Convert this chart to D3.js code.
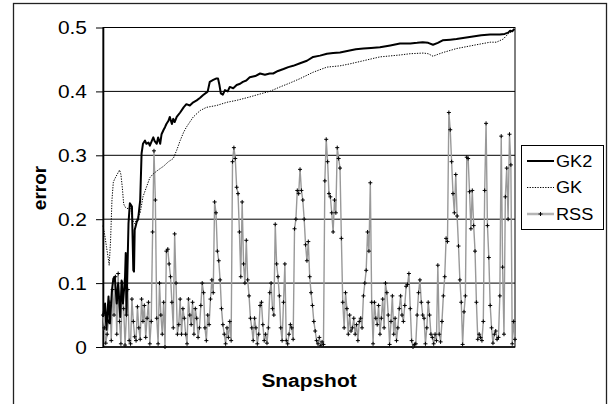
<!DOCTYPE html>
<html>
<head>
<meta charset="utf-8">
<script src="https://cdn.jsdelivr.net/npm/d3@7"></script>
<style>
  body { margin: 0; background: #fff; }
</style>
</head>
<body>
<div class="error_chart"></div>
<script>
// y axis ticks and legend entries
const yTicks = [0, 0.1, 0.2, 0.3, 0.4, 0.5];
const seriesNames = ["GK2", "GK", "RSS"];

// GK2: snapshot number -> error
const gk2Snapshot = [0, 3, 5, 8, 10, 13, 15, 17, 20, 22, 25, 27, 29, 32, 33, 34, 37, 39, 42, 44,
  45, 46, 49, 51, 54, 56, 58, 61, 63, 66, 68, 71, 73, 75, 78, 80, 83, 85, 88, 90,
  92, 95, 97, 100, 102, 104, 107, 112, 117, 121, 126, 131, 136, 141, 145, 150, 152, 155, 160, 164,
  167, 169, 171, 174, 177, 181, 184, 189, 194, 199, 203, 208, 213, 221, 228, 235, 242, 247, 254, 262,
  269, 276, 286, 296, 305, 315, 325, 334, 344, 358, 367, 378, 389, 402, 417, 431, 446, 456, 464, 472,
  479, 486, 493, 504, 513, 525, 537, 549, 562, 576, 583, 588, 591, 594, 597];
const gk2Error = [0.047, 0.068, 0.027, 0.079, 0.037, 0.089, 0.107, 0.11, 0.068, 0.10, 0.047, 0.104, 0.068, 0.11, 0.147, 0.05, 0.193, 0.225, 0.22, 0.12,
  0.118, 0.183, 0.196, 0.20, 0.23, 0.303, 0.318, 0.323, 0.318, 0.32, 0.315, 0.323, 0.328, 0.322, 0.318, 0.328, 0.318, 0.333, 0.34, 0.344,
  0.349, 0.354, 0.36, 0.349, 0.357, 0.352, 0.36, 0.367, 0.375, 0.38, 0.378, 0.383, 0.386, 0.39, 0.394, 0.398, 0.40, 0.415, 0.418, 0.42,
  0.42, 0.41, 0.397, 0.395, 0.402, 0.40, 0.407, 0.405, 0.41, 0.412, 0.415, 0.417, 0.422, 0.424, 0.428, 0.426, 0.428, 0.428, 0.432, 0.435,
  0.438, 0.44, 0.444, 0.448, 0.454, 0.456, 0.459, 0.46, 0.461, 0.464, 0.466, 0.467, 0.468, 0.469, 0.472, 0.475, 0.475, 0.476, 0.477, 0.476,
  0.473, 0.476, 0.48, 0.481, 0.482, 0.484, 0.486, 0.488, 0.489, 0.489, 0.49, 0.492, 0.495, 0.494, 0.498];

// GK: snapshot number -> error
const gkSnapshot = [0, 3, 5, 8, 9, 11, 13, 15, 17, 21, 24, 26, 28, 30, 32, 37, 40, 42, 44, 46,
  49, 54, 58, 63, 68, 73, 80, 88, 95, 102, 107, 112, 117, 121, 131, 141, 150, 165, 180, 194,
  212, 228, 242, 257, 271, 286, 305, 325, 344, 358, 378, 402, 431, 446, 465, 472, 479, 486, 494, 513,
  537, 562, 571, 581, 588, 595, 598];
const gkError = [0.19, 0.172, 0.157, 0.136, 0.128, 0.167, 0.23, 0.258, 0.263, 0.271, 0.277, 0.27, 0.25, 0.224, 0.219, 0.216, 0.221, 0.205, 0.196, 0.193,
  0.20, 0.21, 0.235, 0.25, 0.265, 0.271, 0.277, 0.283, 0.29, 0.295, 0.308, 0.323, 0.336, 0.344, 0.36, 0.37, 0.375, 0.378, 0.383, 0.386,
  0.391, 0.396, 0.40, 0.407, 0.413, 0.42, 0.43, 0.438, 0.44, 0.443, 0.448, 0.454, 0.457, 0.459, 0.46, 0.459, 0.455, 0.458, 0.461, 0.467,
  0.472, 0.477, 0.477, 0.482, 0.49, 0.495, 0.497];

// RSS: one value every second snapshot
const rssError = [
  0.05, 0.03, 0.006, 0.02, 0.04, 0.07, 0.01, 0.09, 0.05, 0.11,
  0.02, 0.115, 0.04, 0.005, 0.10, 0.06, 0.003, 0.05, 0.09, 0.01,
  0.005, 0.075, 0.04, 0.016, 0.01, 0.063, 0.03, 0.012, 0.075, 0.04,
  0.065, 0.015, 0.045, 0.07, 0.005, 0.04, 0.18, 0.307, 0.23, 0.045,
  0.005, 0.10, 0.05, 0.02, 0.07, 0.0, 0.15, 0.153, 0.13, 0.11,
  0.07, 0.03, 0.177, 0.10, 0.02, 0.035, 0.075, 0.02, 0.06, 0.045,
  0.02, 0.005, 0.075, 0.05, 0.035, 0.07, 0.02, 0.06, 0.045, 0.015,
  0.03, 0.065, 0.10, 0.085, 0.03, 0.01, 0.05, 0.035, 0.075, 0.105,
  0.085, 0.227, 0.21, 0.15, 0.135, 0.105, 0.06, 0.035, 0.02, 0.005,
  0.03, 0.015, 0.04, 0.01, 0.29, 0.312, 0.295, 0.25, 0.24, 0.18,
  0.11, 0.227, 0.13, 0.10, 0.167, 0.105, 0.08, 0.045, 0.03, 0.01,
  0.045, 0.03, 0.005, 0.02, 0.065, 0.07, 0.035, 0.01, 0.02, 0.006,
  0.03, 0.085, 0.10, 0.06, 0.05, 0.192, 0.13, 0.11, 0.08, 0.03,
  0.01, 0.07, 0.13, 0.01, 0.005, 0.02, 0.035, 0.03, 0.012, 0.185,
  0.20, 0.245, 0.24, 0.278, 0.245, 0.23, 0.20, 0.16, 0.135, 0.165,
  0.11, 0.085, 0.065, 0.04, 0.025, 0.01, 0.005, 0.015, 0.002, 0.008,
  0.004, 0.26, 0.325, 0.29, 0.24, 0.235, 0.21, 0.18, 0.23, 0.21,
  0.312, 0.295, 0.28, 0.17, 0.07, 0.03, 0.085, 0.06, 0.02, 0.05,
  0.025, 0.03, 0.045, 0.02, 0.035, 0.01, 0.04, 0.045, 0.03, 0.08,
  0.10, 0.12, 0.18, 0.15, 0.257, 0.07, 0.005, 0.07, 0.045, 0.035,
  0.065, 0.02, 0.045, 0.075, 0.03, 0.10, 0.085, 0.05, 0.004, 0.04,
  0.08, 0.02, 0.045, 0.01, 0.03, 0.06, 0.08, 0.05, 0.04, 0.065,
  0.095, 0.098, 0.115, 0.06, 0.01, 0.0, 0.004, 0.005, 0.05, 0.085,
  0.105, 0.07, 0.05, 0.045, 0.005, 0.03, 0.07, 0.05, 0.02, 0.015,
  0.005, 0.02, 0.01, 0.128, 0.02, 0.008, 0.04, 0.08, 0.11, 0.17,
  0.165, 0.367, 0.34, 0.29, 0.24, 0.21, 0.27, 0.205, 0.158, 0.105,
  0.07, 0.004, 0.055, 0.08, 0.297, 0.295, 0.243, 0.185, 0.245, 0.19,
  0.15, 0.07, 0.012, 0.02, 0.015, 0.01, 0.04, 0.245, 0.35, 0.19,
  0.14, 0.065, 0.03, 0.006, 0.02, 0.025, 0.012, 0.015, 0.08, 0.33,
  0.125, 0.02, 0.235, 0.28, 0.2, 0.333, 0.285, 0.005, 0.04, 0.012
];

const width = 613, height = 404;
const plot = { left: 103, right: 515, top: 27.5, bottom: 347 };
const stretch = 1.1; // the original picture is a bit wider than tall

const x = d3.scaleLinear([0, 598], [plot.left, plot.right]);
const y = d3.scaleLinear([0, 0.5], [plot.bottom, plot.top]);

const svg = d3.select(".error_chart").append("svg")
  .attr("width", width)
  .attr("height", height)
  .attr("font-family", "Liberation Sans, Arial, sans-serif");

// outer frame (runs off the bottom of the picture)
svg.append("rect")
  .attr("x", 13.5).attr("y", 3.5)
  .attr("width", 593).attr("height", 430)
  .attr("fill", "none").attr("stroke", "#222").attr("stroke-width", 1.3);

// horizontal grid lines
svg.append("g")
  .selectAll("line")
  .data(yTicks.filter(d => d > 0))
  .join("line")
  .attr("x1", plot.left).attr("x2", plot.right)
  .attr("y1", d => y(d)).attr("y2", d => y(d))
  .attr("stroke", "#000").attr("stroke-width", 1);

// plot area border
svg.append("rect")
  .attr("x", plot.left).attr("y", plot.top)
  .attr("width", plot.right - plot.left).attr("height", plot.bottom - plot.top)
  .attr("fill", "none").attr("stroke", "#000").attr("stroke-width", 1);

// y axis ticks
const yAxis = svg.append("g")
  .attr("transform", `translate(${plot.left},0)`)
  .call(d3.axisLeft(y).tickValues(yTicks).tickSize(7).tickSizeOuter(0).tickFormat(""));
yAxis.select(".domain").attr("stroke", "#000").attr("stroke-width", 1.6);
yAxis.selectAll(".tick line").attr("stroke", "#000");

// tick labels
svg.append("g")
  .selectAll("text")
  .data(yTicks)
  .join("text")
  .attr("transform", d => `translate(87,${y(d)}) scale(${stretch},1)`)
  .attr("text-anchor", "end")
  .attr("dy", "0.36em")
  .attr("font-size", 19)
  .text(d => d3.format("")(d));

// x axis line
svg.append("line")
  .attr("x1", plot.left).attr("x2", plot.right)
  .attr("y1", plot.bottom).attr("y2", plot.bottom)
  .attr("stroke", "#000").attr("stroke-width", 1.4);

// axis titles
svg.append("text")
  .attr("transform", `translate(309,387) scale(${stretch},1)`)
  .attr("text-anchor", "middle")
  .attr("font-size", 19).attr("font-weight", "bold")
  .text("Snapshot");

svg.append("text")
  .attr("transform", "translate(46,188) rotate(-90)")
  .attr("text-anchor", "middle")
  .attr("font-size", 19).attr("font-weight", "bold")
  .text("error");

const line = d3.line().x(d => x(d[0])).y(d => y(d[1]));

// RSS
const rssData = rssError.map((v, i) => [i * 2, v]);
svg.append("path")
  .datum(rssData)
  .attr("fill", "none")
  .attr("stroke", "#999")
  .attr("stroke-width", 1.4)
  .attr("d", line);

svg.append("g")
  .selectAll("path")
  .data(rssData)
  .join("path")
  .attr("transform", d => `translate(${x(d[0])},${y(d[1])})`)
  .attr("d", "M-2,0H2M0,-2V2")
  .attr("stroke", "#000")
  .attr("stroke-width", 1);

// GK
svg.append("path")
  .datum(d3.zip(gkSnapshot, gkError))
  .attr("fill", "none")
  .attr("stroke", "#000")
  .attr("stroke-width", 1)
  .attr("stroke-dasharray", "1.3,1.3")
  .attr("d", line);

// GK2
svg.append("path")
  .datum(d3.zip(gk2Snapshot, gk2Error))
  .attr("fill", "none")
  .attr("stroke", "#000")
  .attr("stroke-width", 2)
  .attr("stroke-linejoin", "round")
  .attr("d", line);

// legend
const legend = svg.append("g");
legend.append("rect")
  .attr("x", 521.5).attr("y", 145.5)
  .attr("width", 82).attr("height", 84)
  .attr("fill", "#fff").attr("stroke", "#000").attr("stroke-width", 1);

const legendY = d3.scalePoint(seriesNames, [161, 214]);
const item = legend.selectAll("g")
  .data(seriesNames)
  .join("g")
  .attr("transform", d => `translate(0,${legendY(d)})`);

item.append("line")
  .attr("x1", 527).attr("x2", 554)
  .attr("stroke", d => d === "RSS" ? "#b5b5b5" : "#000")
  .attr("stroke-width", d => d === "GK2" ? 2 : d === "RSS" ? 2.5 : 1)
  .attr("stroke-dasharray", d => d === "GK" ? "1.3,1.3" : null);

item.filter(d => d === "RSS").append("path")
  .attr("transform", "translate(540.5,0)")
  .attr("d", "M-2,0H2M0,-2V2")
  .attr("stroke", "#000").attr("stroke-width", 1);

item.append("text")
  .attr("transform", `translate(556,0) scale(${stretch},1)`)
  .attr("dy", "0.36em")
  .attr("font-size", 16.5)
  .text(d => d);
</script>
</body>
</html>
